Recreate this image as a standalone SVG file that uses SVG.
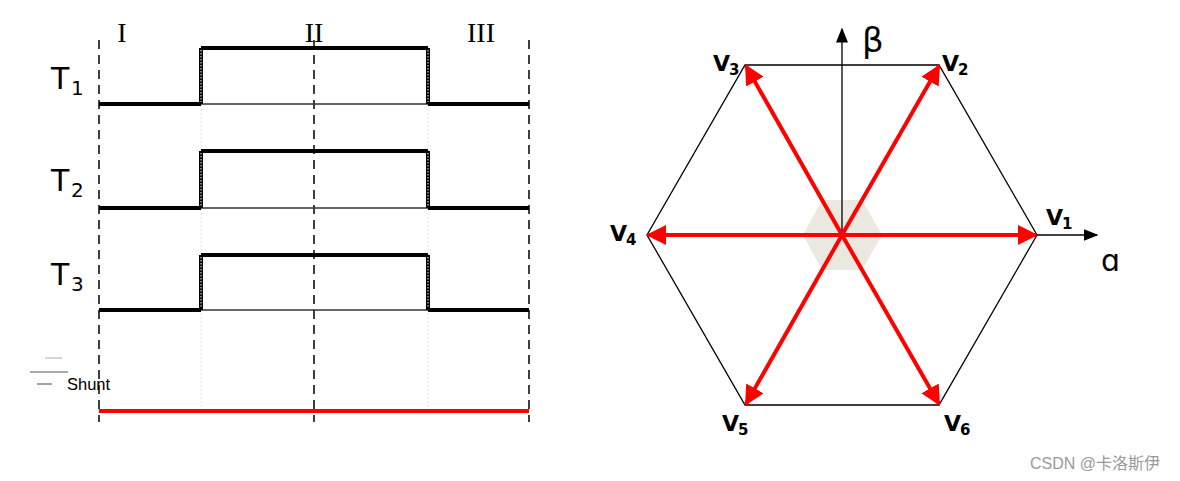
<svg xmlns="http://www.w3.org/2000/svg" width="1180" height="481" viewBox="0 0 1180 481">
<style>
.dash{stroke:#000;stroke-width:1.5;stroke-dasharray:9,6;fill:none}
.guide{stroke:#e6e6dc;stroke-width:1;stroke-dasharray:2,2;fill:none}
.sig{stroke:#000;stroke-width:4;fill:none}
.thin{stroke:#333;stroke-width:1.3;fill:none}
.edge{stroke:#000;stroke-width:4;fill:none}
.edgedot{stroke:#fff;stroke-width:1;stroke-dasharray:1.5,1.5;fill:none}
.rom{font-family:"Liberation Serif",serif;font-size:28px;fill:#000}
.tl{font-family:"DejaVu Sans",sans-serif;font-size:30px;fill:#000}
.ts{font-family:"DejaVu Sans",sans-serif;font-size:20px;fill:#000}
.vl{font-family:"DejaVu Sans",sans-serif;font-weight:bold;font-size:22px;fill:#000}
.vs{font-family:"DejaVu Sans",sans-serif;font-weight:bold;font-size:15px;fill:#000}
.red{stroke:#f00;stroke-width:4;fill:none;marker-end:url(#ra)}
.ax{stroke:#000;stroke-width:1.3;fill:none;marker-end:url(#ba)}
</style>
<defs>
<marker id="ra" viewBox="0 0 10 10" refX="9" refY="5" markerWidth="5" markerHeight="5" orient="auto" markerUnits="strokeWidth"><path d="M0,0 L10,5 L0,10 Z" fill="#f00"/></marker>
<marker id="ba" viewBox="0 0 10 10" refX="9" refY="5" markerWidth="15" markerHeight="15" orient="auto" markerUnits="userSpaceOnUse"><path d="M0,1 L10,5 L0,9 Z" fill="#000"/></marker>
</defs>
<rect width="1180" height="481" fill="#fff"/>

<g id="timing">
<line class="guide" x1="201" y1="45" x2="201" y2="412"/>
<line class="guide" x1="428" y1="45" x2="428" y2="412"/>
<line class="dash" x1="99" y1="40" x2="99" y2="422"/>
<line class="dash" x1="314" y1="40" x2="314" y2="422"/>
<line class="dash" x1="529" y1="40" x2="529" y2="422"/>
<text class="rom" x="122" y="42" text-anchor="middle">I</text>
<text class="rom" x="314" y="42" text-anchor="middle">II</text>
<text class="rom" x="481" y="42" text-anchor="middle">III</text>
</g>

<g id="T1">
<text class="tl" x="51" y="89">T</text><text class="ts" x="71" y="95">1</text>
<polyline class="sig" points="99,104 201,104"/>
<polyline class="sig" points="201,48 428,48"/>
<polyline class="sig" points="428,104 529,104"/>
<line class="thin" x1="201" y1="104" x2="428" y2="104"/>
<line class="edge" x1="201" y1="48" x2="201" y2="104"/>
<line class="edge" x1="428" y1="48" x2="428" y2="104"/>
<line class="edgedot" x1="201" y1="50" x2="201" y2="102"/>
<line class="edgedot" x1="428" y1="50" x2="428" y2="102"/>
</g>

<g id="T2">
<text class="tl" x="51" y="191">T</text><text class="ts" x="71" y="197">2</text>
<polyline class="sig" points="99,208 201,208"/>
<polyline class="sig" points="201,151 428,151"/>
<polyline class="sig" points="428,208 529,208"/>
<line class="thin" x1="201" y1="208" x2="428" y2="208"/>
<line class="edge" x1="201" y1="151" x2="201" y2="208"/>
<line class="edge" x1="428" y1="151" x2="428" y2="208"/>
<line class="edgedot" x1="201" y1="153" x2="201" y2="206"/>
<line class="edgedot" x1="428" y1="153" x2="428" y2="206"/>
</g>

<g id="T3">
<text class="tl" x="51" y="285">T</text><text class="ts" x="71" y="291">3</text>
<polyline class="sig" points="99,310 201,310"/>
<polyline class="sig" points="201,255 428,255"/>
<polyline class="sig" points="428,310 529,310"/>
<line class="thin" x1="201" y1="310" x2="428" y2="310"/>
<line class="edge" x1="201" y1="255" x2="201" y2="310"/>
<line class="edge" x1="428" y1="255" x2="428" y2="310"/>
<line class="edgedot" x1="201" y1="257" x2="201" y2="308"/>
<line class="edgedot" x1="428" y1="257" x2="428" y2="308"/>
</g>

<g id="shunt">
<line x1="45" y1="358" x2="62" y2="358" stroke="#aaa" stroke-width="1"/>
<line x1="30" y1="372" x2="68" y2="372" stroke="#555" stroke-width="1"/>
<line x1="37" y1="384" x2="52" y2="384" stroke="#444" stroke-width="1"/>
<text x="67" y="390" font-family="Liberation Sans, sans-serif" font-size="16.5" fill="#000">Shunt</text>
<line x1="99" y1="411" x2="529" y2="411" stroke="#f00" stroke-width="4"/>
</g>

<g id="hexagon">
<polygon points="803,235 822,200 862,200 882,235 862,270 822,270" fill="#ebe9df"/>
<polygon points="1037,235 939,65 745,65 647,235 745,405 939,405" fill="none" stroke="#000" stroke-width="1.3"/>
</g>

<g id="axes">
<line class="ax" x1="842" y1="235" x2="842" y2="29"/>
<line class="ax" x1="1037" y1="235" x2="1097" y2="235"/>
<text x="862" y="52" font-family="DejaVu Sans, sans-serif" font-size="34" fill="#000">β</text>
<text x="1101" y="271" font-family="DejaVu Sans, sans-serif" font-size="30" fill="#000">ɑ</text>
</g>

<g id="connectors">
<line class="red" x1="842" y1="235" x2="1036" y2="235"/>
<line class="red" x1="842" y1="235" x2="939" y2="66"/>
<line class="red" x1="842" y1="235" x2="746" y2="66"/>
<line class="red" x1="842" y1="235" x2="648" y2="235"/>
<line class="red" x1="842" y1="235" x2="746" y2="404"/>
<line class="red" x1="842" y1="235" x2="939" y2="404"/>
</g>

<g id="labels">
<text class="vl" x="1046" y="225">V</text><text class="vs" x="1062" y="229">1</text>
<text class="vl" x="942" y="71">V</text><text class="vs" x="958" y="75">2</text>
<text class="vl" x="713" y="71">V</text><text class="vs" x="729" y="75">3</text>
<text class="vl" x="610" y="241">V</text><text class="vs" x="626" y="245">4</text>
<text class="vl" x="722" y="431">V</text><text class="vs" x="738" y="435">5</text>
<text class="vl" x="944" y="431">V</text><text class="vs" x="960" y="435">6</text>
</g>

<text x="1030" y="469" font-family="Liberation Sans, 'Noto Sans CJK SC', sans-serif" font-size="16" fill="#999">CSDN @卡洛斯伊</text>
</svg>
